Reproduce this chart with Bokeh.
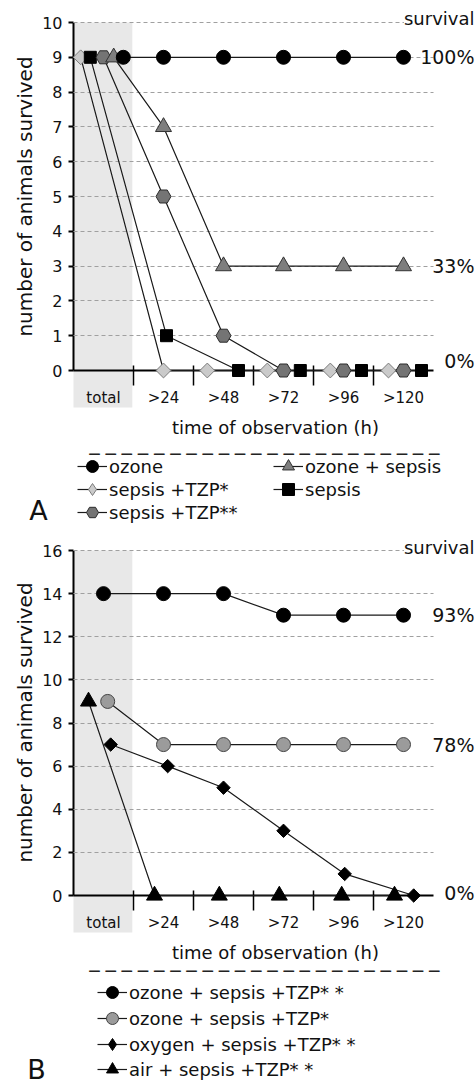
import numpy as np
from bokeh.plotting import figure
from bokeh.models import (ColumnDataSource, FixedTicker, LinearAxis, Range1d,
                          BoxAnnotation, Label, Legend, LegendItem, Grid)
from bokeh.layouts import column
from bokeh.core.properties import value
from bokeh.embed import file_html
from bokeh.resources import INLINE

FONT = "DejaVu Sans"
INK = "#111111"

# ---------------- data ----------------
categories = ["total", ">24", ">48", ">72", ">96", ">120"]

# Panel A: number of animals survived
a_ozone = [9, 9, 9, 9, 9, 9]
a_ozone_sepsis = [9, 7, 3, 3, 3, 3]
a_sepsis_tzp1 = [9, 0, 0, 0, 0, 0]
a_sepsis_tzp2 = [9, 5, 1, 0, 0, 0]
a_sepsis = [9, 1, 0, 0, 0, 0]
# horizontal jitter of each point inside its category (category units)
a_ozone_jit = [0.33, 0, 0, 0, 0, 0]
a_ozone_sepsis_jit = [0.17, 0, 0, 0, 0, 0]
a_sepsis_tzp1_jit = [-0.38, 0, -0.27, -0.27, -0.22, -0.25]
a_sepsis_tzp2_jit = [0, 0, 0, 0, 0, 0]
a_sepsis_jit = [-0.22, 0.05, 0.25, 0.28, 0.30, 0.30]
a_pct_labels = ["100%", "33%", "0%"]
a_pct_levels = [9, 3, 0]

# Panel B
b_o3_tzp2 = [14, 14, 14, 13, 13, 13]
b_o3_tzp1 = [9, 7, 7, 7, 7, 7]
b_o2_tzp2 = [7, 6, 5, 3, 1, 0]
b_air_tzp2 = [9, 0, 0, 0, 0, 0]
b_o3_tzp2_jit = [0, 0, 0, 0, 0, 0]
b_o3_tzp1_jit = [0.07, 0, 0, 0, 0, 0]
b_o2_tzp2_jit = [0.12, 0.07, 0, 0, 0.02, 0.17]
b_air_tzp2_jit = [-0.25, -0.15, -0.07, -0.07, -0.03, -0.15]
b_pct_labels = ["93%", "78%", "0%"]
b_pct_levels = [13, 7, 0]

# ---------------- styles ----------------
A_STYLES = {
    "sepsis +TZP*": dict(marker="square", size=10.5, angle=np.pi / 4, fill_color="#cacaca", line_color="#7d7d7d"),
    "sepsis": dict(marker="square", size=12, fill_color="black", line_color="black"),
    "sepsis +TZP**": dict(marker="hex", size=15, fill_color="#747474", line_color="#2b2b2b"),
    "ozone + sepsis": dict(marker="triangle", size=16, fill_color="#7e7e7e", line_color="#333333"),
    "ozone": dict(marker="circle", size=14, fill_color="black", line_color="black"),
}
B_STYLES = {
    "air + sepsis +TZP* *": dict(marker="triangle", size=16, fill_color="black", line_color="black"),
    "ozone + sepsis +TZP*": dict(marker="circle", size=14, fill_color="#9b9b9b", line_color="#444444"),
    "oxygen + sepsis +TZP* *": dict(marker="square", size=9.5, angle=np.pi / 4, fill_color="black", line_color="black"),
    "ozone + sepsis +TZP* *": dict(marker="circle", size=14, fill_color="black", line_color="black"),
}

W = 476
X0_PX, X_UNIT = 103, 60  # px of the "total" category centre, px per category


def panel(cfg):
    H, z, u = cfg["height"], cfg["zero_px"], cfg["unit_px"]
    fx = lambda px: (px - X0_PX) / X_UNIT
    fy = lambda py: (z - py) / u
    ncat = len(categories)
    p = figure(width=W, height=H, x_range=Range1d(fx(0), fx(W)), y_range=Range1d(fy(H), fy(0)),
               x_axis_type=None, y_axis_type=None, output_backend="svg", toolbar_location=None,
               min_border=0, outline_line_color=None, background_fill_color="white",
               border_fill_color="white")

    y_max, y_step = cfg["y_max"], cfg["y_step"]
    p.add_layout(BoxAnnotation(left=-0.5, right=0.48, bottom=fy(cfg["band_bottom_px"]), top=y_max,
                               fill_color="#e8e8e8", fill_alpha=1, line_color=None, level="image"))

    grid_ticks = list(range(y_step, y_max + 1, y_step))
    if "cross_bounds" in Grid.properties():
        p.add_layout(Grid(dimension=1, ticker=FixedTicker(ticks=grid_ticks), cross_bounds=(-0.5, ncat - 0.5),
                          grid_line_color="#a0a0a0", grid_line_dash="4 3", grid_line_width=1, level="underlay"))
    else:
        p.multi_line([[-0.5, ncat - 0.5] for _ in grid_ticks], [[t, t] for t in grid_ticks],
                     line_color="#a0a0a0", line_dash="4 3", line_width=1, level="underlay")

    yax = LinearAxis(fixed_location=-0.5, bounds=(0, y_max),
                     ticker=FixedTicker(ticks=list(range(0, y_max + 1, y_step))),
                     axis_line_color="black", axis_line_width=2,
                     major_tick_line_color="black", major_tick_line_width=2,
                     major_tick_out=5, major_tick_in=0, minor_tick_line_color=None,
                     major_label_standoff=6, major_label_text_font=FONT,
                     major_label_text_font_size="16px", major_label_text_color=INK, level="underlay")
    p.add_layout(yax, "left")
    xax = LinearAxis(fixed_location=0, bounds=(-0.5, ncat - 0.5),
                     ticker=FixedTicker(ticks=list(range(ncat)), minor_ticks=[i + 0.5 for i in range(ncat - 1)]),
                     major_label_overrides={i: c for i, c in enumerate(categories)},
                     axis_line_color="black", axis_line_width=2,
                     major_tick_line_color=None, major_tick_out=0, major_tick_in=0,
                     minor_tick_line_color="black", minor_tick_line_width=1.5,
                     minor_tick_in=5, minor_tick_out=15,
                     major_label_standoff=3, major_label_text_font=FONT,
                     major_label_text_font_size="15px", major_label_text_color=INK, level="underlay")
    p.add_layout(xax, "below")

    srcs = []
    for name, ys, jit in cfg["series"]:
        x = np.arange(ncat) + np.asarray(jit, dtype=float)
        srcs.append((name, ColumnDataSource(dict(x=x, y=ys))))
    lines = {name: p.line("x", "y", source=s, line_color="#1a1a1a", line_width=1.2) for name, s in srcs}
    items = {}
    for name, s in srcs:
        st = cfg["styles"][name]
        r = p.scatter("x", "y", source=s, line_width=1, **st)
        if st.get("angle"):
            # the legend ignores the angle of a rotated square: show a diamond there instead
            lst = {k: v for k, v in st.items() if k not in ("angle", "marker", "size")}
            r = p.scatter(x=[np.nan], y=[np.nan], marker="diamond", size=st["size"], line_width=1, **lst)
        items[name] = LegendItem(label=value(name), renderers=[lines[name], r])

    psrc = ColumnDataSource(dict(x=[fx(474)] * len(cfg["pct_labels"]), y=cfg["pct_levels"],
                                 text=cfg["pct_labels"], dy=cfg["pct_dy"]))
    p.text("x", "y", text="text", y_offset="dy", source=psrc, text_align="right", text_baseline="middle",
           text_font=value(FONT), text_font_size="19px", text_color=INK)

    p.add_layout(Label(x=fx(474), y=fy(cfg["survival_py"]), text="survival", text_align="right",
                       text_baseline="middle", text_font=FONT, text_font_size="18px", text_color=INK,
                       background_fill_color="white", background_fill_alpha=1))
    p.add_layout(Label(x=fx(24), y=fy(cfg["ytitle_py"]), text="number of animals survived", angle=np.pi / 2,
                       text_align="center", text_baseline="middle", text_font=FONT,
                       text_font_size="20px", text_color=INK))
    p.add_layout(Label(x=fx(275), y=fy(cfg["xtitle_py"]), text="time of observation (h)",
                       text_align="center", text_baseline="middle", text_font=FONT,
                       text_font_size="18px", text_color=INK))
    p.add_layout(Label(x=fx(88), y=fy(cfg["dash_py"]), text="\u2014 " * 21 + "\u2014",
                       text_align="left", text_baseline="middle", text_font=FONT,
                       text_font_size="12px", text_font_style="bold", text_color="#222222"))
    p.add_layout(Label(x=fx(cfg["letter_px"][0]), y=fy(cfg["letter_px"][1]), text=cfg["letter"],
                       text_align="center", text_baseline="middle", text_font=FONT,
                       text_font_size="27px", text_color=INK))

    # one legend per row, so that the row pitch can be set exactly
    gx = cfg["legend_x"]
    for row, cy in zip(cfg["legend_rows"], cfg["legend_row_py"]):
        leg = Legend(items=[items[n] for n in row], location=(gx, H - (cy + 15)),
                     orientation="horizontal",
                     glyph_width=30, glyph_height=30, label_height=30, label_width=cfg["label_width"],
                     label_standoff=2, spacing=0, padding=0, margin=0,
                     border_line_color=None, background_fill_alpha=0,
                     label_text_font=FONT, label_text_font_size="18px", label_text_color=INK)
        p.add_layout(leg)
    return p


cfg_a = dict(
    height=536, zero_px=370, unit_px=34.8, y_max=10, y_step=1, band_bottom_px=407,
    series=[("sepsis +TZP*", a_sepsis_tzp1, a_sepsis_tzp1_jit),
            ("sepsis", a_sepsis, a_sepsis_jit),
            ("sepsis +TZP**", a_sepsis_tzp2, a_sepsis_tzp2_jit),
            ("ozone + sepsis", a_ozone_sepsis, a_ozone_sepsis_jit),
            ("ozone", a_ozone, a_ozone_jit)],
    styles=A_STYLES,
    pct_labels=a_pct_labels, pct_levels=a_pct_levels, pct_dy=[0, 0, -10],
    survival_py=18, ytitle_py=196, xtitle_py=427, dash_py=453,
    letter="A", letter_px=(38, 510),
    legend_rows=[["ozone", "ozone + sepsis"], ["sepsis +TZP*", "sepsis"], ["sepsis +TZP**"]],
    legend_row_py=[466, 489, 512], legend_x=77, label_width=164,
)
cfg_b = dict(
    height=550, zero_px=359, unit_px=345 / 16, y_max=16, y_step=2, band_bottom_px=396,
    series=[("air + sepsis +TZP* *", b_air_tzp2, b_air_tzp2_jit),
            ("ozone + sepsis +TZP*", b_o3_tzp1, b_o3_tzp1_jit),
            ("oxygen + sepsis +TZP* *", b_o2_tzp2, b_o2_tzp2_jit),
            ("ozone + sepsis +TZP* *", b_o3_tzp2, b_o3_tzp2_jit)],
    styles=B_STYLES,
    pct_labels=b_pct_labels, pct_levels=b_pct_levels, pct_dy=[0, 0, -3],
    survival_py=11, ytitle_py=186, xtitle_py=416, dash_py=434,
    letter="B", letter_px=(36, 533),
    legend_rows=[["ozone + sepsis +TZP* *"], ["ozone + sepsis +TZP*"], ["oxygen + sepsis +TZP* *"],
                 ["air + sepsis +TZP* *"]],
    legend_row_py=[456, 482, 508, 533], legend_x=97, label_width=20,
)

layout = column(panel(cfg_a), panel(cfg_b))
open("out.html", "w").write(file_html(layout, INLINE))
